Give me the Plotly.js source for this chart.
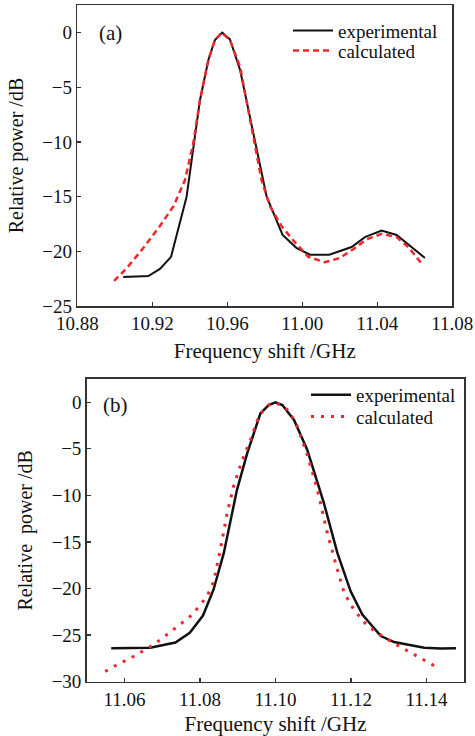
<!DOCTYPE html>
<html>
<head>
<meta charset="utf-8">
<script src="https://cdn.plot.ly/plotly-3.0.1.min.js"></script>
<style>
html,body{margin:0;padding:0;background:#fff;}
#chart{width:475px;height:736px;}
</style>
</head>
<body>
<div id="chart"></div>
<script>
// Panel (a)
const aExpX = [10.9045,10.9179,10.9241,10.9300,10.9383,10.9419,10.9454,10.9499,10.9534,10.9573,10.9614,10.9668,10.9739,10.9810,10.9895,10.9970,11.0041,11.0144,11.0263,11.0334,11.0423,11.0503,11.0654];
const aExpY = [-22.35,-22.26,-21.6,-20.5,-15.0,-10.4,-6.2,-2.5,-0.67,0,-0.6,-3.4,-9.2,-15.0,-18.5,-19.7,-20.3,-20.3,-19.6,-18.7,-18.1,-18.5,-20.6];
const aCalX = [10.8996,10.9063,10.9152,10.9240,10.9312,10.9374,10.9419,10.9454,10.9499,10.9534,10.9570,10.9614,10.9668,10.9730,10.9783,10.9828,10.9890,10.9952,11.0032,11.0121,11.0201,11.0272,11.0343,11.0423,11.0503,11.0565,11.0645];
const aCalY = [-22.7,-21.55,-19.7,-17.7,-15.9,-13.5,-10.1,-6.2,-2.5,-0.67,0,-0.67,-3.1,-8.6,-13.5,-15.9,-17.7,-19.0,-20.5,-21.0,-20.6,-19.8,-18.9,-18.4,-18.7,-19.6,-21.3];
// Panel (b)
const bExpX = [11.0565,11.0668,11.0735,11.0773,11.0808,11.0836,11.0863,11.0898,11.0925,11.0960,11.0982,11.1000,11.1018,11.1049,11.1084,11.1128,11.1164,11.1199,11.1230,11.1279,11.1314,11.1394,11.1438,11.1478];
const bExpY = [-26.4,-26.36,-25.8,-24.75,-22.9,-20.1,-16.2,-9.4,-5.5,-1.2,-0.3,0,-0.3,-1.9,-5.1,-10.8,-16.2,-20.3,-22.8,-25.1,-25.75,-26.36,-26.43,-26.4];
const bCalX = [11.0549,11.0584,11.0615,11.0642,11.0668,11.0695,11.0721,11.0748,11.0774,11.0796,11.0819,11.0836,11.0854,11.0872,11.0889,11.0912,11.0934,11.0956,11.0978,11.1000,11.1031,11.1053,11.1084,11.1111,11.1137,11.1160,11.1182,11.1208,11.1243,11.1279,11.1310,11.1341,11.1372,11.1398,11.1430];
const bCalY = [-28.9,-28.1,-27.5,-26.9,-26.25,-25.5,-24.7,-23.9,-23.0,-22.0,-20.8,-19.3,-15.8,-11.9,-9.0,-6.2,-4.0,-1.5,-0.36,0,-0.8,-2.1,-5.6,-9.4,-14.0,-17.4,-20.5,-22.3,-24.0,-25.0,-25.8,-26.5,-27.2,-27.8,-28.5];
const seriesNames = ['experimental','calculated'];
const aXTicks = [10.88,10.92,10.96,11.00,11.04,11.08];
const aXTickText = ['10.88','10.92','10.96','11.00','11.04','11.08'];
const aYTicks = [0,-5,-10,-15,-20,-25];
const bXTicks = [11.06,11.08,11.10,11.12,11.14];
const bXTickText = ['11.06','11.08','11.10','11.12','11.14'];
const bYTicks = [0,-5,-10,-15,-20,-25,-30];
const yTickText = v => v.map(t => t === 0 ? '0' : '\u2212' + Math.abs(t));

const RED = '#f0262a';
const BLACK = '#111111';
const SERIF = 'Liberation Serif, Times New Roman, serif';

const traces = [
  {x:aExpX, y:aExpY, xaxis:'x', yaxis:'y', mode:'lines', name:seriesNames[0], legend:'legend',
   line:{color:BLACK, width:2}},
  {x:aCalX, y:aCalY, xaxis:'x', yaxis:'y', mode:'lines', name:seriesNames[1], legend:'legend2',
   line:{color:RED, width:2.5, dash:'6px,4px'}},
  {x:bExpX, y:bExpY, xaxis:'x2', yaxis:'y2', mode:'lines', name:seriesNames[0], legend:'legend3',
   line:{color:BLACK, width:2.5}},
  {x:bCalX, y:bCalY, xaxis:'x2', yaxis:'y2', mode:'lines', name:seriesNames[1], legend:'legend4',
   line:{color:RED, width:3, dash:'3px,7px'}}
];

const axCommon = {
  showline:true, mirror:true, linecolor:'#333', linewidth:1.5,
  ticks:'inside', ticklen:4, tickwidth:1.3, tickcolor:'#333',
  showgrid:false, zeroline:false,
  tickfont:{family:SERIF, size:19, color:BLACK}
};
const xTitleFont = {family:SERIF, size:21, color:BLACK};
const yTitleFont = {family:SERIF, size:20, color:BLACK};
const legendBase = {xanchor:'left', yanchor:'middle', bgcolor:'rgba(0,0,0,0)',
  font:{family:SERIF, size:19, color:BLACK}, itemwidth:40};
const mkLegend = (px, py) => Object.assign({}, legendBase, {x:px/475, y:1-py/736});

const layout = {
  width:475, height:736,
  margin:{l:0, r:0, t:0, b:0},
  font:{family:SERIF, size:18, color:BLACK},
  paper_bgcolor:'#fff', plot_bgcolor:'#fff',
  showlegend:true,
  xaxis:Object.assign({}, axCommon, {
    domain:[0.1627,0.9522], anchor:'y', range:[10.88,11.08],
    tickvals:aXTicks, ticktext:aXTickText,
    title:{text:'Frequency shift /GHz', font:xTitleFont, standoff:10}
  }),
  yaxis:Object.assign({}, axCommon, {
    domain:[0.5842,0.9932], anchor:'x', range:[-25,2.53],
    tickvals:aYTicks, ticktext:yTickText(aYTicks),
    title:{text:'Relative power /dB', font:yTitleFont, standoff:13}
  }),
  xaxis2:Object.assign({}, axCommon, {
    domain:[0.1825,0.9775], anchor:'y2', range:[11.05,11.15],
    tickvals:bXTicks, ticktext:bXTickText,
    title:{text:'Frequency shift /GHz', font:xTitleFont, standoff:10}
  }),
  yaxis2:Object.assign({}, axCommon, {
    domain:[0.0738,0.4851], anchor:'x2', range:[-30,2.5],
    tickvals:bYTicks, ticktext:yTickText(bYTicks),
    title:{text:'Relative  power /dB', font:yTitleFont, standoff:13}
  }),
  legend: mkLegend(288, 30.7),
  legend2: mkLegend(288, 50.7),
  legend3: mkLegend(306, 395),
  legend4: mkLegend(306, 416.7),
  annotations:[
    {text:'(a)', xref:'paper', yref:'paper', x:97/475, y:1-33/736, xanchor:'left', yanchor:'middle',
     showarrow:false, font:{family:SERIF, size:21, color:BLACK}},
    {text:'(b)', xref:'paper', yref:'paper', x:101/475, y:1-405/736, xanchor:'left', yanchor:'middle',
     showarrow:false, font:{family:SERIF, size:21, color:BLACK}}
  ]
};

Plotly.newPlot('chart', traces, layout, {displayModeBar:false, staticPlot:true});
</script>
</body>
</html>
